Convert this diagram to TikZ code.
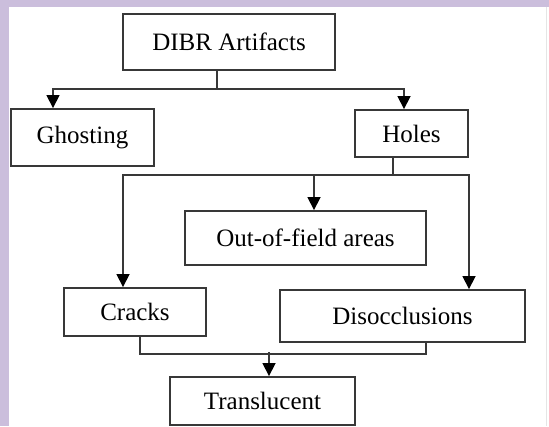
\documentclass[tikz,border=0pt]{standalone}
\usepackage{fontspec}
\setmainfont{Liberation Serif}
\usetikzlibrary{arrows.meta}
\definecolor{frame}{HTML}{CBBEDC}
\definecolor{edge}{HTML}{383838}
\tikzset{
  box/.style={draw=edge, line width=1.9pt, fill=white, inner sep=0pt,
              font=\fontsize{25}{30}\selectfont, text=black},
  conn/.style={draw=edge, line width=1.7pt},
  arrow/.style={conn, -{Triangle[width=13pt,length=13pt,color=black,fill=black]}}
}
\begin{document}
\begin{tikzpicture}[x=1pt,y=-1pt]
  % page area and tinted frame
  \useasboundingbox (0,0) rectangle (549,426);
  \fill[frame] (0,0) rectangle (549,426);
  \fill[white] (8.5,7) rectangle (549,426);
  \draw[black!10, line width=0.8pt] (546,7) -- (546,426);

  % boxes
  \node[box, minimum width=212pt, minimum height=56pt] (dibr)   at (229,42)    {DIBR Artifacts\hspace{14pt}};
  \node[box, minimum width=143pt, minimum height=57pt] (ghost)  at (82.5,137.5) {Ghosting};
  \node[box, minimum width=113pt, minimum height=47pt] (holes)  at (411.5,133.5) {Holes};
  \node[box, minimum width=241pt, minimum height=54pt] (out)    at (305.5,238) {Out-of-field areas};
  \node[box, minimum width=142pt, minimum height=48pt] (cracks) at (135,312)   {Cracks};
  \node[box, minimum width=245pt, minimum height=52pt] (disocc) at (402.5,316) {Disocclusions};
  \node[box, minimum width=185pt, minimum height=48pt] (trans)  at (262.5,401) {Translucent};

  % DIBR Artifacts -> Ghosting, Holes
  \draw[conn] ([xshift=-12pt]dibr.south) -- ++(0,18) coordinate (j1);
  \draw[arrow] (j1) -| ([xshift=-29.5pt]ghost.north);
  \draw[arrow] (j1) -| ([xshift=-7.5pt]holes.north);

  % Holes -> Cracks, Out-of-field areas, Disocclusions
  \draw[conn] ([xshift=-18.5pt]holes.south) -- ++(0,17) coordinate (j2);
  \draw[arrow] (j2) -| ([xshift=-12pt]cracks.north);
  \draw[arrow] (j2) -| ([xshift=8.5pt]out.north);
  \draw[arrow] (j2) -| ([xshift=66.5pt]disocc.north);

  % Cracks, Disocclusions -> Translucent
  \draw[conn] ([xshift=5pt]cracks.south) -- ++(0,17) -| ([xshift=23.5pt]disocc.south);
  \draw[arrow] ([xshift=6.5pt]trans.north) ++(0,-24) -- ([xshift=6.5pt]trans.north);
\end{tikzpicture}
\end{document}
